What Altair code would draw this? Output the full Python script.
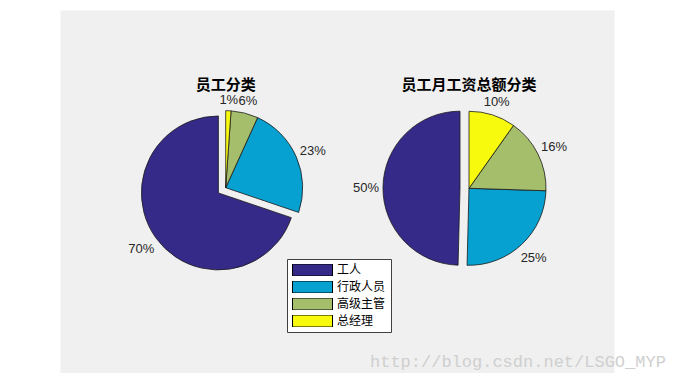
import altair as alt
import pandas as pd

# ---- data ----
categories = ['工人', '行政人员', '高级主管', '总经理']
staff_share = [69.8, 23.4, 5.7, 1.1]       # 员工分类 (%)
salary_share = [49.6, 24.9, 15.7, 9.8]     # 员工月工资总额分类 (%)
exploded = ['工人']
pie_keys = ['staff', 'salary']
pie_titles = ['员工分类', '员工月工资总额分类']
colors = ['#352a87', '#06a0d1', '#a5be6b', '#f8fa0d']
watermark = ['http://blog.csdn.net/LSGO_MYP']

rows = []
for key, vals in zip(pie_keys, [staff_share, salary_share]):
    for i, (c, v) in enumerate(zip(categories, vals)):
        rows.append({'pie': key, 'cat': c, 'value': v,
                     'order': len(categories) - 1 - i,
                     'explode': c in exploded})
df = pd.DataFrame(rows)

R = 77

base = (
    alt.Chart(df)
    .transform_window(cum='sum(value)', sort=[alt.SortField('order')],
                      groupby=['pie'], frame=[None, 0])
    .transform_joinaggregate(total='sum(value)', groupby=['pie'])
    .transform_calculate(a0='(datum.cum - datum.value) / datum.total * 2 * PI')
    .transform_calculate(a1='datum.cum / datum.total * 2 * PI')
    .transform_calculate(mid='(datum.a0 + datum.a1) / 2')
    .transform_calculate(cx="datum.pie == 'staff' ? 165.7 : 409")
    .transform_calculate(cy="datum.pie == 'staff' ? 177.7 : 178.3")
    .transform_calculate(pct="round(datum.value / datum.total * 100) + '%'")
    .transform_calculate(ex='datum.cx + (datum.explode ? 9 * sin(datum.mid) : 0)')
    .transform_calculate(ey='datum.cy - (datum.explode ? 9 * cos(datum.mid) : 0)')
    .transform_calculate(lr='84 + (length(datum.pct) > 2 ? 10 : 7) * abs(sin(datum.mid))'
                            ' + 4.5 * abs(cos(datum.mid))')
    .transform_calculate(lx='datum.ex + datum.lr * sin(datum.mid)')
    .transform_calculate(ly='datum.ey - datum.lr * cos(datum.mid) + 1')
)

legend = alt.Legend(
    title=None, orient='none', legendX=227, legendY=249, direction='vertical',
    symbolType='M-1,-0.3H1V0.3H-1Z', symbolSize=1600,
    symbolStrokeColor='black', symbolStrokeWidth=1, symbolOpacity=1,
    clipHeight=12, rowPadding=5, labelOffset=4, padding=5,
    strokeColor='#404040', fillColor='white',
    labelFont='Noto Sans CJK SC', labelFontSize=12, labelColor='black',
)

arcs = base.mark_arc(radius=R, stroke='#1a1a1a', strokeWidth=0.8).encode(
    theta=alt.Theta('a0:Q', scale=None, stack=False),
    theta2='a1:Q',
    x=alt.X('ex:Q', scale=None, axis=None),
    y=alt.Y('ey:Q', scale=None, axis=None),
    color=alt.Color('cat:N', scale=alt.Scale(domain=categories, range=colors),
                    legend=legend),
)

labels = base.mark_text(font='Liberation Sans', fontSize=13, color='#262626').encode(
    x=alt.X('lx:Q', scale=None, axis=None),
    y=alt.Y('ly:Q', scale=None, axis=None),
    text='pct:N',
)

tdf = pd.DataFrame({'pie': pie_keys, 'title': pie_titles})
titles = (
    alt.Chart(tdf)
    .transform_calculate(tx="datum.pie == 'staff' ? 165.7 : 409")
    .transform_calculate(ty='74.5')
    .mark_text(font='Noto Sans CJK SC', fontSize=15, fontWeight='bold', color='black')
    .encode(x=alt.X('tx:Q', scale=None, axis=None),
            y=alt.Y('ty:Q', scale=None, axis=None),
            text='title:N')
)

wdf = pd.DataFrame({'txt': watermark})
mark_wm = (
    alt.Chart(wdf)
    .mark_text(font='Liberation Mono', fontSize=17, color='#cfcfcf', align='left')
    .encode(x=alt.value(310), y=alt.value(352), text='txt:N')
)

chart = (
    alt.layer(arcs, labels, titles, mark_wm)
    .properties(width=554, height=363,
                autosize=alt.AutoSizeParams(type='none'),
                padding={'left': 52, 'top': 2, 'right': 52, 'bottom': 0},
                background='white')
    .configure_view(fill='#f0f0f0', stroke='transparent')
)

chart.save('out.html', embed_options={'renderer': 'svg', 'actions': False})
